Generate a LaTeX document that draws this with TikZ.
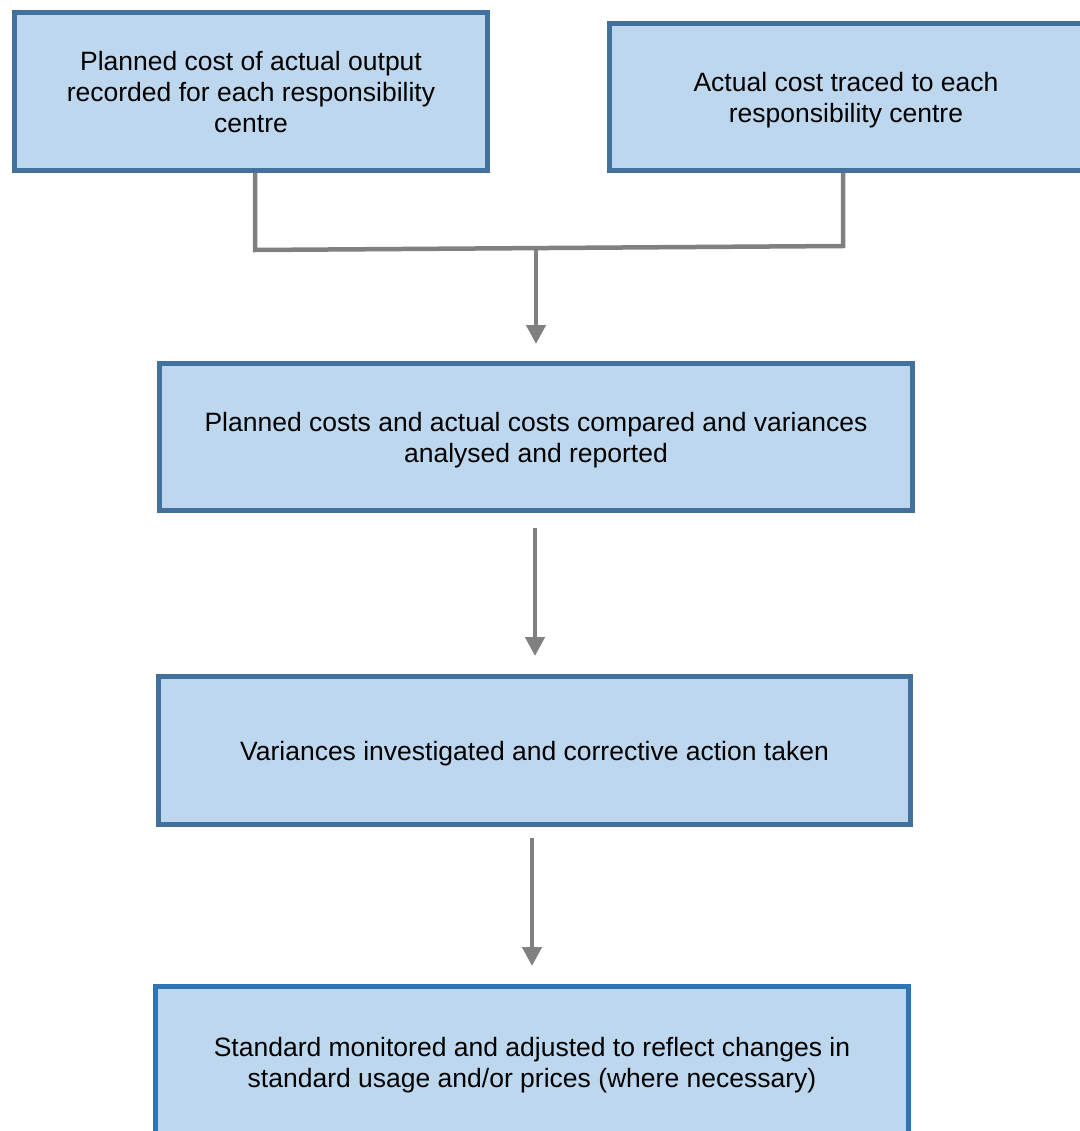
\documentclass[tikz,border=0pt]{standalone}
\usepackage{fontspec}
\setmainfont{Liberation Sans}
\usetikzlibrary{arrows.meta}
\definecolor{boxfill}{HTML}{BDD7EE}
\definecolor{boxline}{HTML}{41719C}
\definecolor{boxlineb}{HTML}{2E75B6}
\definecolor{conn}{HTML}{808080}
\tikzset{
  boxtext/.style={align=center, font=\fontsize{26.5}{31}\selectfont, inner sep=0pt},
  stepbox/.style={draw=boxline, fill=boxfill, line width=5pt, boxtext},
  link/.style={draw=conn, line width=4.5pt},
  linkarrow/.style={link, -{Triangle[width=19pt,length=19pt]}}
}
\begin{document}
\begin{tikzpicture}[x=1pt,y=-1pt]
\useasboundingbox (0,0) rectangle (1079,1131);
\node[stepbox, minimum width=473pt, minimum height=158pt] (b1) at (251,91.5) {};
\node[boxtext] (b1t) at (251,92)
  {Planned cost of actual output\\recorded for each responsibility\\centre};
\node[stepbox, minimum width=473pt, minimum height=147pt] (b2) at (846,97) {};
\node[boxtext] (b2t) at (846,100)
  {Actual cost traced to each\\responsibility centre};
\node[stepbox, minimum width=753pt, minimum height=147pt] (b3) at (536,437) {};
\node[boxtext] (b3t) at (536,440)
  {Planned costs and actual costs compared and variances\\analysed and reported};
\node[stepbox, minimum width=752pt, minimum height=148pt] (b4) at (534.5,750.5) {};
\node[boxtext] (b4t) at (534.5,754)
  {Variances investigated and corrective action taken};
\node[stepbox, draw=boxlineb, minimum width=753pt, minimum height=160pt] (b5) at (532,1066.5) {};
\node[boxtext] (b5t) at (532,1065)
  {Standard monitored and adjusted to reflect changes in\\standard usage and/or prices (where necessary)};
\coordinate (j1) at (255,250);
\coordinate (j2) at (843,246);
\coordinate (m0) at (536,249);
\coordinate (m1) at (536,344);
\coordinate (a0) at (535,528);
\coordinate (a1) at (535,656);
\coordinate (c0) at (532,838);
\coordinate (c1) at (532,966);
\draw[link] (b1.south -| j1) -- (j1) -- (j2) -- (b2.south -| j2);
\draw[linkarrow] (m0) -- (m1);
\draw[linkarrow] (a0) -- (a1);
\draw[linkarrow] (c0) -- (c1);
\end{tikzpicture}
\end{document}
